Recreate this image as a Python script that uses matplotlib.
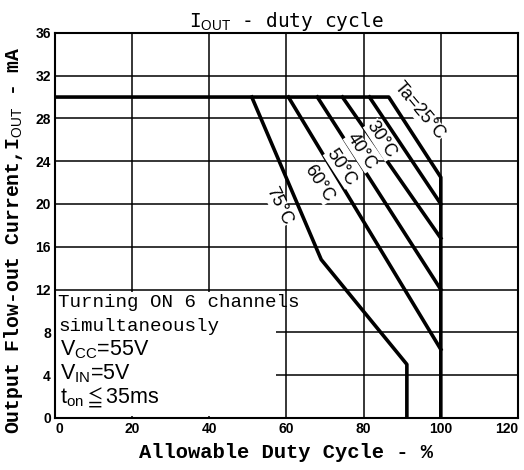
import numpy as np
from matplotlib import pyplot as plt
from matplotlib.patches import Rectangle

# duty cycle (%) / output current (mA) break points per ambient temperature
ta_25_x = [0, 86.5, 100, 100]
ta_25_y = [30, 30, 22.5, 0]
ta_30_x = [81.5, 100]
ta_30_y = [30, 20.0]
ta_40_x = [74.5, 100]
ta_40_y = [30, 16.8]
ta_50_x = [68, 100]
ta_50_y = [30, 12.0]
ta_60_x = [60.5, 100]
ta_60_y = [30, 6.4]
ta_75_x = [51, 69, 91.2, 91.2]
ta_75_y = [30, 14.8, 5.0, 0]

x_ticks = [0, 20, 40, 60, 80, 100, 120]
y_ticks = [0, 4, 8, 12, 16, 20, 24, 28, 32, 36]

# label text, x, y, rotation
labels = [
    ("Ta=25°C", 94.4, 28.7, -50),
    ("30°C", 84.6, 26.0, -57),
    ("40°C", 79.4, 24.9, -57),
    ("50°C", 74.2, 23.4, -57),
    ("60°C", 68.5, 21.9, -57),
    ("75°C", 58.0, 19.8, -64),
]

plt.rcParams["mathtext.fontset"] = "custom"
plt.rcParams["mathtext.rm"] = "Liberation Sans"
plt.rcParams["mathtext.it"] = "Liberation Sans"
plt.rcParams["mathtext.fallback"] = "stix"

fig = plt.figure(figsize=(5.24, 4.70), dpi=100)
ax = fig.add_axes([0.105, 0.111, 0.8835, 0.819])

ax.set_xlim(0, 120)
ax.set_ylim(0, 36)
ax.set_xticks(x_ticks)
ax.set_yticks(y_ticks)
ax.grid(True, color="black", linewidth=1.1)
ax.tick_params(length=0, pad=3)
for lab in ax.get_xticklabels() + ax.get_yticklabels():
    lab.set_family("Liberation Sans")
    lab.set_fontweight("bold")
    lab.set_fontsize(10)
ax.get_xticklabels()[-1].set_horizontalalignment("right")
ax.get_xticklabels()[0].set_horizontalalignment("left")
for s in ax.spines.values():
    s.set_linewidth(1.5)

# blank area behind the notes
ax.add_patch(Rectangle((0.3, 0.15), 57, 11.6, facecolor="white",
                       edgecolor="none", zorder=2))

for xs, ys in [(ta_25_x, ta_25_y), (ta_30_x, ta_30_y), (ta_40_x, ta_40_y),
               (ta_50_x, ta_50_y), (ta_60_x, ta_60_y), (ta_75_x, ta_75_y)]:
    ax.plot(xs, ys, color="black", linewidth=2.6, zorder=3,
            solid_joinstyle="round")

for txt, lx, ly, rot in labels:
    ax.text(lx, ly, txt, rotation=rot, ha="center", va="center",
            fontsize=13, family="Liberation Sans", zorder=4,
            bbox=dict(facecolor="white", edgecolor="none", pad=0.3))

ax.text(0.8, 10.8, "Turning ON 6 channels", family="Liberation Mono",
        fontsize=13.8, va="center", zorder=4)
ax.text(0.8, 8.5, "simultaneously", family="Liberation Mono",
        fontsize=13.8, va="center", zorder=4)
ax.text(1.2, 6.4, r"V$_{CC}$=55V", family="Liberation Sans",
        fontsize=15.5, va="center", zorder=4)
ax.text(1.2, 4.1, r"V$_{IN}$=5V", family="Liberation Sans",
        fontsize=15.5, va="center", zorder=4)
ax.text(1.2, 1.9, r"t$_{on}\leqq$35ms", family="Liberation Sans",
        fontsize=15.5, va="center", zorder=4)

ax.set_title(r"I$_{OUT}$ - duty cycle", family="DejaVu Sans Mono",
             fontsize=14, pad=3)
ax.set_xlabel("Allowable Duty Cycle - %", family="Liberation Mono",
              fontweight="bold", fontsize=14.8, labelpad=5)
ax.set_ylabel(r"Output Flow-out Current,I$_{OUT}$ - mA", family="Liberation Mono",
              fontweight="bold", fontsize=14.2)
ax.yaxis.set_label_coords(-0.064, 0.462)

fig.savefig("out.png", dpi=100)
